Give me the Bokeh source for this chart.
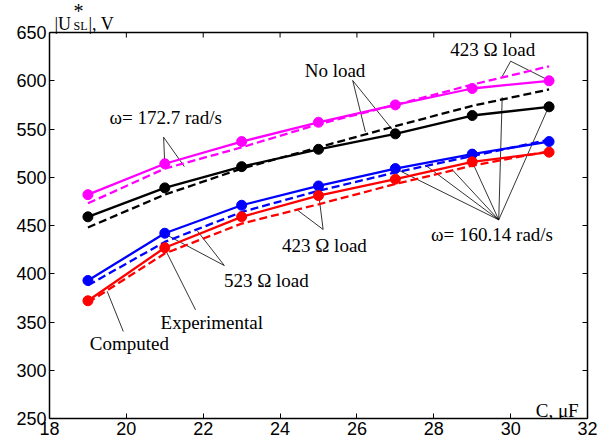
from bokeh.plotting import figure
from bokeh.models import LinearAxis, Label, Range1d, FixedTicker, Span
from bokeh.embed import file_html
from bokeh.resources import INLINE

# ---- data ----
C_uF = [19, 21, 23, 25, 27, 29, 31]
mag_exp = [482, 514, 537, 557, 575, 592, 600]
mag_comp = [473, 509, 531, 555, 575, 596, 615]
blk_exp = [459, 489, 511, 529, 545, 564, 573]
blk_comp = [448, 482, 509, 531, 553, 574, 591]
blu_exp = [393, 442, 471, 491, 509, 524, 537]
blu_comp = [388, 433, 464, 486, 505, 522, 539]
red_exp = [372, 427, 459, 481, 498, 516, 526]
red_comp = [370, 421, 452, 472, 493, 512, 527]

x_ticks = [18, 20, 22, 24, 26, 28, 30, 32]
y_ticks = [250, 300, 350, 400, 450, 500, 550, 600, 650]

# annotation texts (text, x, y)
ann_text = ["\u03c9= 172.7 rad/s", "No load", "423 \u03a9 load", "\u03c9= 160.14 rad/s",
            "423 \u03a9 load", "523 \u03a9 load", "Experimental", "Computed"]
ann_x = [19.56, 24.64, 28.43, 27.93, 24.05, 22.54, 20.89, 19.05]
ann_y = [562, 611, 632, 441, 429, 393, 349, 328]

# leader lines (start = label vertex, end = curve)
lead_x0 = [20.97, 20.97, 25.89, 25.89, 30.0, 30.0,
           29.69, 29.69, 29.69, 29.69, 29.69, 29.69,
           25.12, 25.12, 22.55, 22.55, 21.8, 19.92]
lead_y0 = [541.5, 541.5, 600.3, 600.3, 620.3, 620.3,
           455.9, 455.9, 455.9, 455.9, 455.9, 455.9,
           445.9, 445.9, 408.5, 408.5, 362.6, 340.2]
lead_x1 = [21.0, 21.51, 26.22, 27.0, 29.78, 31.0,
           27.0, 27.8, 28.5, 29.0, 29.78, 31.0,
           25.01, 24.45, 21.04, 21.84, 20.99, 19.5]
lead_y1 = [512, 511, 547, 545.5, 604.4, 600.3,
           509, 512, 507, 516, 583, 574,
           481, 466, 440.4, 444.8, 426.9, 381.9]

x_min, x_max = x_ticks[0], x_ticks[-1]
y_min, y_max = y_ticks[0], y_ticks[-1]
# the frame extends above y_max so the axis title (drawn as labels) is not clipped;
# the visible box is closed at y_max by axis bounds and a span.
y_view_top = 683.2
tick_len = 5.2  # in data units of y (about 5 px)

p = figure(width=603, height=440, output_backend="svg", toolbar_location=None,
           x_range=Range1d(x_min, x_max), y_range=Range1d(y_min, y_view_top),
           min_border_left=49, min_border_right=16, min_border_top=0, min_border_bottom=22,
           background_fill_color="white", border_fill_color="white")
p.xgrid.visible = False
p.ygrid.visible = False
p.outline_line_color = None

tick_font = "Liberation Sans"

def style_axis(ax, labels=True):
    ax.major_tick_in = 5
    ax.major_tick_out = 0
    ax.minor_tick_in = 0
    ax.minor_tick_out = 0
    ax.axis_line_color = "black"
    ax.axis_line_width = 1.5
    ax.major_tick_line_color = "black"
    ax.major_tick_line_width = 1
    ax.major_label_text_font = tick_font
    if labels:
        ax.major_label_text_color = "black"
        ax.major_label_text_font_size = "18px"
        ax.major_label_standoff = 3
    else:
        ax.major_label_text_color = None
        ax.major_label_text_font_size = "8px"
        ax.major_label_standoff = 0

p.xaxis.ticker = FixedTicker(ticks=x_ticks)
p.yaxis.ticker = FixedTicker(ticks=y_ticks)
p.yaxis.bounds = (y_min, y_max)
style_axis(p.xaxis[0])
style_axis(p.yaxis[0])

right = LinearAxis(ticker=FixedTicker(ticks=y_ticks), bounds=(y_min, y_max))
style_axis(right, labels=False)
p.add_layout(right, "right")

# top edge of the box with inward ticks
p.add_layout(Span(location=y_max, dimension="width", line_color="black", line_width=1.5))
p.segment(x0=x_ticks, y0=[y_max] * len(x_ticks), x1=x_ticks, y1=[y_max - tick_len] * len(x_ticks),
          line_color="black", line_width=1)

# leader lines
p.segment(x0=lead_x0, y0=lead_y0, x1=lead_x1, y1=lead_y1, line_color="black", line_width=0.8)

series = [
    (mag_exp, mag_comp, "#FF00FF"),
    (blk_exp, blk_comp, "black"),
    (blu_exp, blu_comp, "#0000FF"),
    (red_exp, red_comp, "#FF0000"),
]
for exp, comp, col in series:
    p.line(C_uF, comp, line_color=col, line_width=2.3, line_dash="8 4")
    p.line(C_uF, exp, line_color=col, line_width=2.3)
    p.scatter(C_uF, exp, marker="circle", size=10, fill_color=col, line_color=col)

serif = "Liberation Serif"
for t, x, y in zip(ann_text, ann_x, ann_y):
    p.add_layout(Label(x=x, y=y, text=t, text_font=serif, text_font_size="19px",
                       text_color="black", text_baseline="middle", text_align="left"))

# x-axis label inside the frame
p.add_layout(Label(x=31.77, y=258.3, text="C, \u03bcF", text_font=serif, text_font_size="19px",
                   text_color="black", text_baseline="alphabetic", text_align="right"))

# y-axis title |U*_SL|, V above the box
p.add_layout(Label(x=x_min, y=y_max, x_offset=5, y_offset=9, text="|U", text_font=serif,
                   text_font_size="18px", text_color="black",
                   text_baseline="alphabetic", text_align="left"))
p.add_layout(Label(x=x_min, y=y_max, x_offset=24, y_offset=22, text="*", text_font=serif,
                   text_font_size="20px", text_color="black",
                   text_baseline="alphabetic", text_align="left"))
p.add_layout(Label(x=x_min, y=y_max, x_offset=24, y_offset=7, text="SL", text_font=serif,
                   text_font_size="12px", text_color="black",
                   text_baseline="alphabetic", text_align="left"))
p.add_layout(Label(x=x_min, y=y_max, x_offset=39, y_offset=9, text="|, V", text_font=serif,
                   text_font_size="18px", text_color="black",
                   text_baseline="alphabetic", text_align="left"))

open("out.html", "w").write(file_html(p, INLINE))
